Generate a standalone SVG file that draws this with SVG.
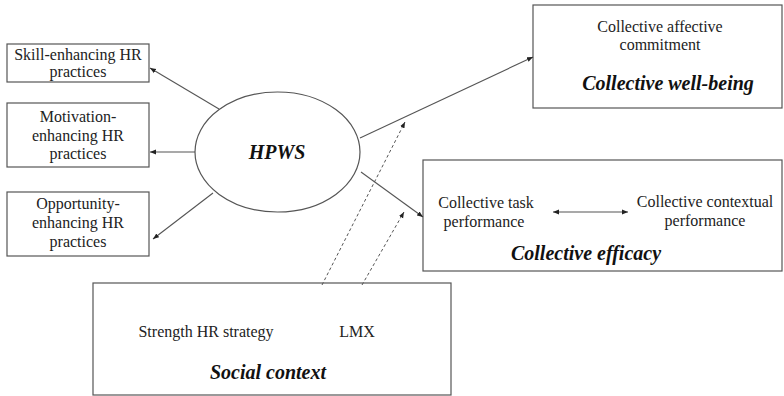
<svg xmlns="http://www.w3.org/2000/svg" width="784" height="396" viewBox="0 0 784 396">
<defs>
<style>
.box{fill:#fff;stroke:#555;stroke-width:1.2}
.t{font-family:"Liberation Serif","Times New Roman",serif;font-size:16px;fill:#222;text-anchor:middle}
.b{font-family:"Liberation Serif","Times New Roman",serif;font-size:20px;font-weight:bold;font-style:italic;fill:#111;text-anchor:middle}
.ln{stroke:#555;stroke-width:1.1;fill:none}
.ds{stroke:#555;stroke-width:1;fill:none;stroke-dasharray:3 2.5}
</style>
<marker id="ah" viewBox="0 0 10 10" refX="10" refY="5" markerWidth="6" markerHeight="6" markerUnits="userSpaceOnUse" orient="auto-start-reverse">
<path d="M0,1 L10,5 L0,9 z" fill="#222"/>
</marker>
</defs>
<rect width="784" height="396" fill="#fff"/>
<g id="skill">
<rect class="box" x="7" y="44" width="142" height="38"/>
<text class="t" x="78" y="60">Skill-enhancing  HR</text>
<text class="t" x="78" y="77">practices</text>
</g>
<g id="motivation">
<rect class="box" x="7" y="103" width="142" height="64"/>
<text class="t" x="78" y="122">Motivation-</text>
<text class="t" x="78" y="141">enhancing HR</text>
<text class="t" x="78" y="159">practices</text>
</g>
<g id="opportunity">
<rect class="box" x="7" y="192" width="142" height="64"/>
<text class="t" x="78" y="209">Opportunity-</text>
<text class="t" x="78" y="228">enhancing HR</text>
<text class="t" x="78" y="247">practices</text>
</g>
<g id="hpws">
<ellipse class="box" cx="277.5" cy="152" rx="82.5" ry="60"/>
<text class="b" x="277" y="159">HPWS</text>
</g>
<g id="wellbeing">
<rect class="box" x="533" y="5" width="249" height="103"/>
<text class="t" x="660" y="32">Collective affective</text>
<text class="t" x="660" y="50">commitment</text>
<text class="b" x="668" y="90">Collective well-being</text>
</g>
<g id="efficacy">
<rect class="box" x="423" y="160" width="359" height="111"/>
<text class="t" x="486" y="208">Collective task</text>
<text class="t" x="484" y="227">performance</text>
<text class="t" x="705" y="207">Collective contextual</text>
<text class="t" x="705" y="226">performance</text>
<text class="b" x="586" y="260">Collective efficacy</text>
</g>
<g id="social">
<rect class="box" x="93" y="283" width="358" height="112"/>
<text class="t" x="206" y="337">Strength HR strategy</text>
<text class="t" x="357" y="337">LMX</text>
<text class="b" x="268" y="379">Social context</text>
</g>
<g id="connectors">
<line class="ln" x1="219" y1="109" x2="150" y2="68" marker-end="url(#ah)"/>
<line class="ln" x1="195" y1="152" x2="150" y2="152" marker-end="url(#ah)"/>
<line class="ln" x1="213" y1="193" x2="153" y2="239" marker-end="url(#ah)"/>
<line class="ln" x1="360" y1="138" x2="533" y2="57" marker-end="url(#ah)"/>
<line class="ln" x1="361" y1="172" x2="423" y2="217" marker-end="url(#ah)"/>
<line class="ln" x1="553" y1="212" x2="628" y2="212" marker-start="url(#ah)" marker-end="url(#ah)"/>
<line class="ds" x1="322" y1="285" x2="405" y2="122" marker-end="url(#ah)"/>
<line class="ds" x1="362" y1="285" x2="404" y2="212" marker-end="url(#ah)"/>
</g>
</svg>
